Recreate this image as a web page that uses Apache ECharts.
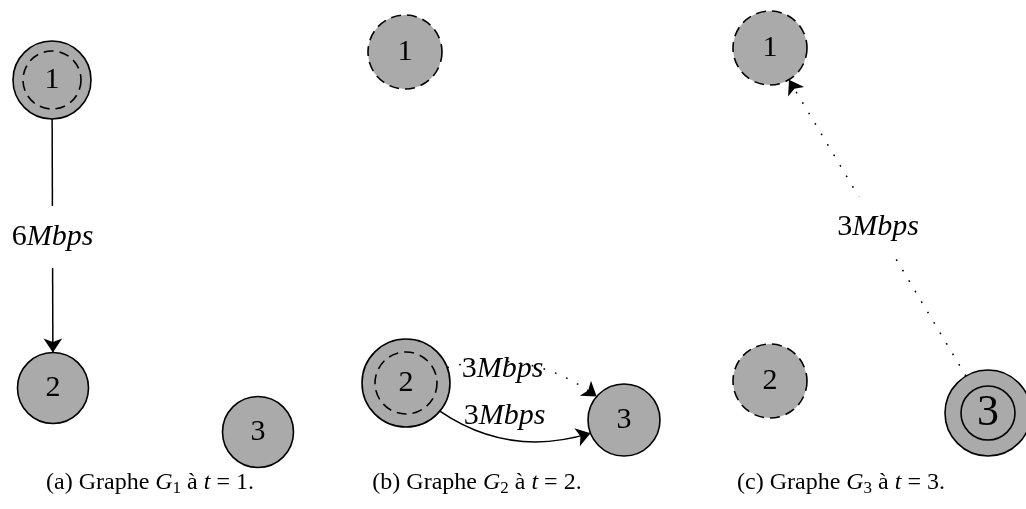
<!DOCTYPE html>
<html><head><meta charset="utf-8">
<script src="https://cdn.jsdelivr.net/npm/echarts@6/dist/echarts.min.js"></script>
<style>html,body{margin:0;padding:0;background:#fff}#c{width:1026px;height:509px}</style>
</head><body><div id="c"></div>
<script>
// ---- data ----
const nodeIds    = ['a1','a2','a3','b1','b2','b3','c1','c2','c3'];
const nodeLabels = ['1','2','3','1','2','3','1','2','3'];
const nodeX      = [52, 53, 258, 405, 406, 624, 770, 770, 988];
const nodeY      = [80, 388, 432, 52, 383, 420, 48, 381, 413];
const edgeFrom   = ['a1','b2','b2','c3'];
const edgeTo     = ['a2','b3','b3','c1'];
const edgeRates  = [6, 3, 3, 3];
const edgeUnit   = 'Mbps';
const captionPanels = ['a','b','c'];
const captionGraphs = ['1','2','3'];
const captionTimes  = ['1','2','3'];

// ---- styles ----
const FONT = '"Liberation Serif", "DejaVu Serif", serif';
const FILL = '#aaaaaa';
const DASH = [10, 6];
const NODE_STYLE = {
  a1: {size: 78, inner: 'dashed', innerSize: 58},
  a2: {size: 71}, a3: {size: 71},
  b1: {size: 74, border: 'dashed'},
  b2: {size: 88, inner: 'dashed', innerSize: 62},
  b3: {size: 72},
  c1: {size: 74, border: 'dashed'},
  c2: {size: 74, border: 'dashed'},
  c3: {size: 86, inner: 'solid', innerSize: 54, fontSize: 44}
};
const EDGE_STYLE = [
  {type: 'solid',  curveness: 0,     bg: true,  offset: [0, 3]},
  {type: 'dotted', curveness: 0.35,  bg: false, offset: [-19, 6]},
  {type: 'solid',  curveness: -0.35, bg: false, offset: [-4, -24]},
  {type: 'dotted', curveness: 0,     bg: true,  offset: [-1, -3]}
];
const CAPTION_X = [150, 477, 841];
const CAPTION_Y = 483;

// ---- build graph ----
const nodes = nodeIds.map((id, i) => {
  const s = NODE_STYLE[id];
  return {
    id: id, name: nodeLabels[i], value: [nodeX[i], nodeY[i]], symbolSize: s.size,
    itemStyle: {color: FILL, borderColor: '#000', borderWidth: 1.6, opacity: 1,
                borderType: s.border === 'dashed' ? DASH : 'solid'},
    label: {fontSize: s.fontSize || 30}
  };
});
nodeIds.forEach((id, i) => {
  const s = NODE_STYLE[id];
  if (s.inner) nodes.push({
    id: id + '_ring', name: '', value: [nodeX[i], nodeY[i]], symbolSize: s.innerSize,
    itemStyle: {color: 'rgba(0,0,0,0)', borderColor: '#000', borderWidth: 1.6, opacity: 1,
                borderType: s.inner === 'dashed' ? DASH : 'solid'},
    label: {show: false}
  });
});
const links = edgeFrom.map((f, k) => ({
  source: nodeIds.indexOf(f), target: nodeIds.indexOf(edgeTo[k]),
  lineStyle: {color: '#000', width: 1.5, opacity: 1,
              type: EDGE_STYLE[k].type === 'dotted' ? [1.7, 10.5] : 'solid',
              curveness: EDGE_STYLE[k].curveness}
}));
// label anchors: midpoint of each edge path (same construction as ECharts graph edges)
const labelData = edgeFrom.map((f, k) => {
  const i = nodeIds.indexOf(f), j = nodeIds.indexOf(edgeTo[k]);
  const p1 = [nodeX[i], nodeY[i]], p2 = [nodeX[j], nodeY[j]];
  const c = EDGE_STYLE[k].curveness;
  const cp = [(p1[0] + p2[0]) / 2 - (p1[1] - p2[1]) * c, (p1[1] + p2[1]) / 2 - (p2[0] - p1[0]) * c];
  const mid = [0.25 * p1[0] + 0.5 * cp[0] + 0.25 * p2[0], 0.25 * p1[1] + 0.5 * cp[1] + 0.25 * p2[1]];
  return {
    value: mid,
    label: {
      offset: EDGE_STYLE[k].offset,
      backgroundColor: EDGE_STYLE[k].bg ? '#fff' : 'transparent',
      padding: EDGE_STYLE[k].bg ? [16, 4] : 0,
      formatter: '{n|' + edgeRates[k] + '}{i|' + edgeUnit + '}'
    }
  };
});

const chart = echarts.init(document.getElementById('c'), null, {renderer: 'canvas'});
chart.setOption({
  animation: false,
  backgroundColor: '#fff',
  grid: {left: 0, right: 0, top: 0, bottom: 0},
  xAxis: {type: 'value', min: 0, max: 1026, show: false},
  yAxis: {type: 'value', min: 0, max: 509, inverse: true, show: false},
  series: [
    {
      type: 'graph', coordinateSystem: 'cartesian2d', layout: 'none', silent: true,
      data: nodes, links: links,
      edgeSymbol: ['circle', 'arrow'], edgeSymbolSize: [0, 14],
      label: {show: true, position: 'inside', color: '#000', fontFamily: FONT, fontSize: 30, formatter: '{b}'},
      emphasis: {disabled: true}
    },
    {
      type: 'scatter', silent: true, symbolSize: 0, z: 5,
      itemStyle: {opacity: 1},
      data: labelData,
      label: {
        show: true, position: 'inside', color: '#000',
        rich: {
          n: {fontFamily: FONT, fontSize: 30, color: '#000'},
          i: {fontFamily: FONT, fontSize: 30, fontStyle: 'italic', color: '#000'}
        }
      },
      emphasis: {disabled: true}
    }
  ],
  graphic: captionPanels.map((p, k) => ({
    type: 'text', x: CAPTION_X[k], y: CAPTION_Y, silent: true,
    style: {
      text: '(' + p + ') Graphe {i|G}{s|' + captionGraphs[k] + '} à {i|t} = ' + captionTimes[k] + '.',
      fontFamily: FONT, fontSize: 24, fill: '#000', align: 'center', verticalAlign: 'middle', lineHeight: 28,
      rich: {
        i: {fontFamily: FONT, fontSize: 24, fontStyle: 'italic', lineHeight: 28},
        s: {fontFamily: FONT, fontSize: 17, lineHeight: 11, verticalAlign: 'bottom'}
      }
    }
  }))
});
</script></body></html>
